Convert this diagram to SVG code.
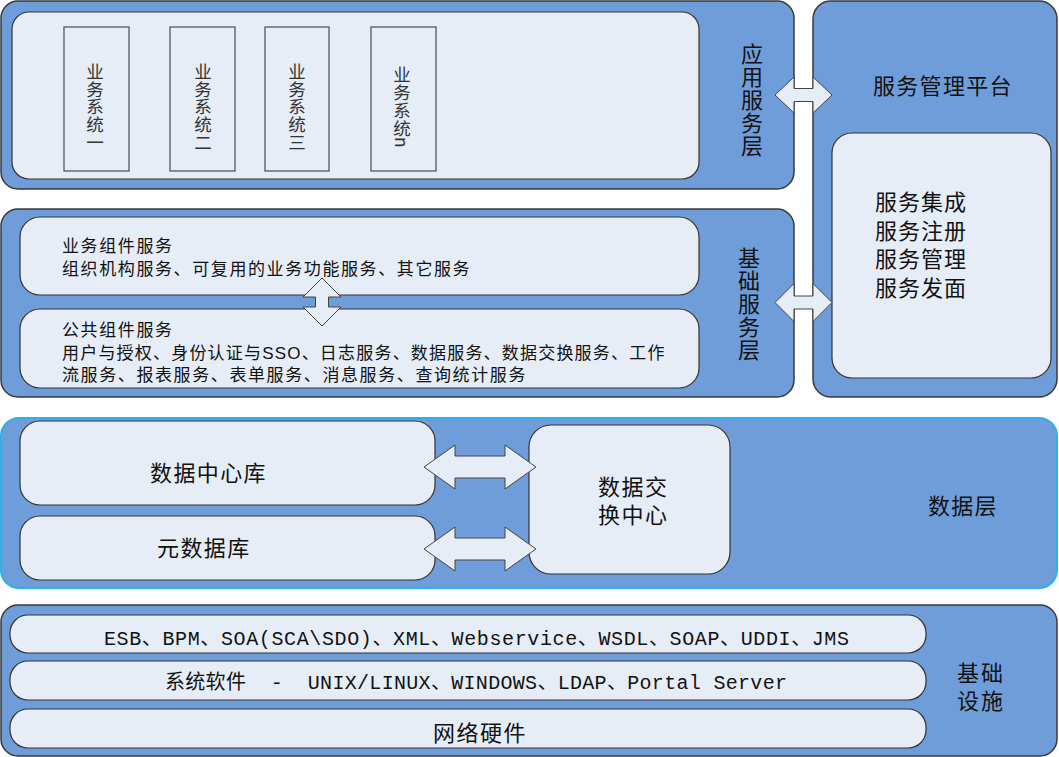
<svg xmlns="http://www.w3.org/2000/svg" width="1059" height="757" viewBox="0 0 1059 757">
<style>
.layer{fill:#6f9dd9;stroke:#3a3a3a;stroke-width:1.5}
.datalayer{fill:#6f9dd9;stroke:#2ab2e8;stroke-width:2}
.panel{fill:#e6edf7;stroke:#333;stroke-width:1.2}
.sys{fill:#e6edf7;stroke:#4a4a4a;stroke-width:1.2}
.arrow{fill:#e6edf7;stroke:#444;stroke-width:1}
.cjk{font-family:'Noto Sans CJK SC',sans-serif;fill:#111}
.ml{font-family:'Liberation Sans','Noto Sans CJK SC',sans-serif;fill:#111}
.vt{writing-mode:vertical-rl;text-anchor:middle}
.f17{font-size:17px;letter-spacing:1.6px}
.f22{font-size:22px;letter-spacing:1.3px}
.mono{font-family:'Liberation Mono','Noto Sans CJK SC',monospace;font-size:20px;fill:#111}
</style>

<g id="app-layer">
  <rect class="layer" x="1" y="1" width="793" height="188" rx="17"/>
  <rect class="panel" x="12" y="12" width="687" height="167" rx="17"/>
  <text class="cjk vt" x="752" y="100" style="font-size:22px;letter-spacing:1px">应用服务层</text>
</g>
<g id="sys-1">
  <rect class="sys" x="64" y="27" width="65" height="144"/>
  <text class="cjk vt" x="95" y="107" style="font-size:17.5px;letter-spacing:0.3px;fill:#333">业务系统一</text>
</g>
<g id="sys-2">
  <rect class="sys" x="170" y="27" width="65" height="144"/>
  <text class="cjk vt" x="203" y="107" style="font-size:17.5px;letter-spacing:0.3px;fill:#333">业务系统二</text>
</g>
<g id="sys-3">
  <rect class="sys" x="265" y="27" width="64" height="144"/>
  <text class="cjk vt" x="297" y="107" style="font-size:17.5px;letter-spacing:0.3px;fill:#333">业务系统三</text>
</g>
<g id="sys-n">
  <rect class="sys" x="371" y="27" width="65" height="144"/>
  <text class="cjk vt" x="402" y="107" style="font-size:17.5px;letter-spacing:0.3px;fill:#333">业务系统n</text>
</g>

<g id="base-layer">
  <rect class="layer" x="1" y="209" width="793" height="188" rx="17"/>
  <text class="cjk vt" x="749" y="304" style="font-size:22px;letter-spacing:1px">基础服务层</text>
</g>
<g id="biz-components">
  <rect class="panel" x="20" y="217" width="679" height="78" rx="20"/>
  <text class="ml f17"><tspan x="62" y="252">业务组件服务</tspan><tspan x="62" y="275">组织机构服务、可复用的业务功能服务、其它服务</tspan></text>
</g>
<g id="common-components">
  <rect class="panel" x="20" y="309" width="679" height="79" rx="20"/>
  <text class="ml f17"><tspan x="62" y="336">公共组件服务</tspan><tspan x="62" y="359" textLength="604" lengthAdjust="spacing">用户与授权、身份认证与SSO、日志服务、数据服务、数据交换服务、工作</tspan><tspan x="62" y="381">流服务、报表服务、表单服务、消息服务、查询统计服务</tspan></text>
</g>

<g id="platform">
  <rect class="layer" x="813" y="1" width="244" height="396" rx="18"/>
  <text class="cjk f22" x="873" y="94">服务管理平台</text>
</g>
<g id="platform-functions">
  <rect class="panel" x="832" y="133" width="219" height="245" rx="20"/>
  <text class="ml" style="font-size:22px;letter-spacing:1px"><tspan x="875" y="210">服务集成</tspan><tspan x="875" y="238.5">服务注册</tspan><tspan x="875" y="267">服务管理</tspan><tspan x="875" y="295.5">服务发面</tspan></text>
</g>

<g id="data-layer">
  <rect class="datalayer" x="1" y="418" width="1056" height="170" rx="18"/>
  <text class="cjk f22" x="928" y="514">数据层</text>
</g>
<g id="data-center">
  <rect class="panel" x="20" y="421" width="415" height="84" rx="20"/>
  <text class="cjk" x="150" y="481" style="font-size:22px;letter-spacing:1.4px">数据中心库</text>
</g>
<g id="metadata">
  <rect class="panel" x="20" y="516" width="415" height="64" rx="20"/>
  <text class="cjk" x="157" y="556" style="font-size:22px;letter-spacing:1.4px">元数据库</text>
</g>
<g id="exchange-center">
  <rect class="panel" x="529" y="425" width="201" height="149" rx="22"/>
  <text class="ml" style="font-size:22px;letter-spacing:1.5px"><tspan x="598" y="495">数据交</tspan><tspan x="598" y="523">换中心</tspan></text>
</g>

<g id="infra-layer">
  <rect class="layer" x="1" y="605" width="1056" height="151" rx="17"/>
  <text class="ml" style="font-size:22px;letter-spacing:2px"><tspan x="957" y="681">基础</tspan><tspan x="957" y="709">设施</tspan></text>
</g>
<g id="infra-standards">
  <rect class="panel" x="10" y="615" width="916" height="38" rx="18"/>
  <text class="mono" x="104" y="645" textLength="745" lengthAdjust="spacing">ESB、BPM、SOA(SCA\SDO)、XML、Webservice、WSDL、SOAP、UDDI、JMS</text>
</g>
<g id="infra-software">
  <rect class="panel" x="10" y="661" width="916" height="39" rx="18"/>
  <text class="mono" x="165" y="689" xml:space="preserve" textLength="622" lengthAdjust="spacing">系统软件  -  UNIX/LINUX、WINDOWS、LDAP、Portal Server</text>
</g>
<g id="infra-hardware">
  <rect class="panel" x="10" y="709" width="916" height="39" rx="18"/>
  <text class="cjk" x="433" y="741" style="font-size:22px;letter-spacing:1.5px">网络硬件</text>
</g>

<g id="connectors">
  <path class="arrow" d="M775,95 L794,77 L794,88.5 L813,88.5 L813,77 L832,95 L813,113 L813,101.5 L794,101.5 L794,113 Z"/>
  <path class="arrow" d="M775,302.5 L794,283.5 L794,296 L813,296 L813,283.5 L832,302.5 L813,321.5 L813,309 L794,309 L794,321.5 Z"/>
  <path class="arrow" d="M322,278 L341,297 L328.5,297 L328.5,307 L341,307 L322,326 L303,307 L315.5,307 L315.5,297 L303,297 Z"/>
  <path class="arrow" d="M424,467 L455,445 L455,456 L505,456 L505,445 L536,467 L505,489 L505,478 L455,478 L455,489 Z"/>
  <path class="arrow" d="M424,549 L455,527 L455,538 L505,538 L505,527 L536,549 L505,571 L505,560 L455,560 L455,571 Z"/>
</g>
</svg>
